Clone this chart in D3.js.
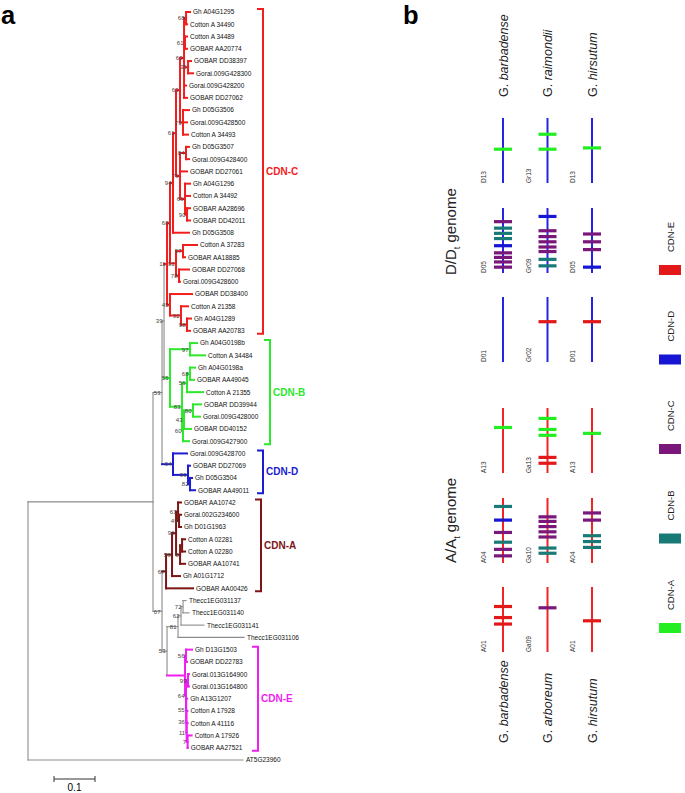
<!DOCTYPE html>
<html><head><meta charset="utf-8">
<script src="https://cdn.jsdelivr.net/npm/d3@7"></script>
<style>body{margin:0;background:#fff} svg{display:block;font-family:"Liberation Sans",Arial,sans-serif}</style>
</head><body><svg id="c" width="685" height="793"></svg>
<script>
// ---------- DATA: panel a (tree rows: id, parent, branch length, bootstrap) ----------
const treeRows = [
["root","",0,""],
["I","root",0.3049,""],
["A","I",0.0220,"53"],
["B","A",0.0049,"39"],
["nC","B",0.0073,"11"],
["n68","nC",0.0073,"68"],
["n94","n68",0.0073,"94"],
["c","n94",0.0073,"61"],
["c1","c",0.0098,"63"],
["c1a","c1",0.0098,"63"],
["c1a1","c1a",0.0049,"68"],
["Gh A04G1295","c1a1",0.0098,""],
["Cotton A 34490","c1a1",0.0024,""],
["c1a2","c1a",0.0024,"61"],
["Cotton A 34489","c1a2",0.0049,""],
["GOBAR AA20774","c1a2",0.0049,""],
["c1a3","c1a",0.0098,"35"],
["GOBAR DD38397","c1a3",0.0073,""],
["Gorai.009G428300","c1a3",0.0122,""],
["Gorai.009G428200","c1a",0.0049,""],
["GOBAR DD27062","c1a",0.0073,""],
["c1b","c1",0.0073,"79"],
["Gh D05G3506","c1b",0.0146,""],
["Gorai.009G428500","c1b",0.0098,""],
["Cotton A 34493","c1b",0.0122,""],
["c2","c",0.0098,"79"],
["c2a","c2",0.0146,"84"],
["Gh D05G3507","c2a",0.0073,""],
["Gorai.009G428400","c2a",0.0073,""],
["GOBAR DD27061","c2",0.0171,""],
["c2b","c2",0.0122,"69"],
["Gh A04G1296","c2b",0.0122,""],
["Cotton A 34492","c2b",0.0122,""],
["c2c","c2b",0.0049,"90"],
["GOBAR AA28696","c2c",0.0073,""],
["GOBAR DD42011","c2c",0.0073,""],
["Gh D05G3508","n94",0.0390,""],
["n91","n68",0.0146,"91"],
["n97c","n91",0.0171,"97"],
["Cotton A 37283","n97c",0.0341,""],
["GOBAR AA18885","n97c",0.0049,""],
["n78","n91",0.0073,"78"],
["GOBAR DD27068","n78",0.0244,""],
["Gorai.009G428600","n78",0.0024,""],
["nLow","nC",0.0073,"45"],
["GOBAR DD38400","nLow",0.0537,""],
["n92","nLow",0.0268,"92"],
["Cotton A 21358","n92",0.0171,""],
["n98","n92",0.0146,"98"],
["Gh A04G1289","n98",0.0098,""],
["GOBAR AA20783","n98",0.0073,""],
["nB","B",0.0146,"55"],
["n97","nB",0.0488,"97"],
["Gh A04G0198b","n97",0.0171,""],
["Cotton A 34484","n97",0.0366,""],
["nB2","nB",0.0293,"83"],
["n56","nB2",0.0122,"56"],
["n68b","n56",0.0073,"68"],
["Gh A04G0198a","n68b",0.0122,""],
["GOBAR AA49045","n68b",0.0098,""],
["Cotton A 21355","n56",0.0390,""],
["nB3","nB2",0.0024,"60"],
["nB4","nB3",0.0024,"43"],
["n80","nB4",0.0220,"80"],
["GOBAR DD39944","n80",0.0195,""],
["Gorai.009G428000","n80",0.0171,""],
["GOBAR DD40152","nB4",0.0171,""],
["Gorai.009G427900","nB3",0.0146,""],
["nD","A",0.0268,"94"],
["Gorai.009G428700","nD",0.0341,""],
["nD2","nD",0.0366,"99"],
["GOBAR DD27069","nD2",0.0049,""],
["nD3","nD2",0.0049,"82"],
["Gh D05G3504","nD3",0.0049,""],
["GOBAR AA49011","nD3",0.0122,""],
["n67","I",0.0220,"67"],
["nA","n67",0.0098,"67"],
["nA1","nA",0.0146,"56"],
["nA2","nA1",0.0098,"96"],
["nA4","nA2",0.0049,"61"],
["GOBAR AA10742","nA4",0.0073,""],
["nA5","nA4",0.0024,"49"],
["Gorai.002G234600","nA5",0.0049,""],
["Gh D01G1963","nA5",0.0049,""],
["nA3","nA2",0.0098,"6"],
["nA6","nA3",0.0049,""],
["Cotton A 02281","nA6",0.0073,""],
["Cotton A 02280","nA6",0.0073,""],
["GOBAR AA10741","nA3",0.0122,""],
["Gh A01G1712","nA1",0.0195,""],
["GOBAR AA00426","nA",0.0659,""],
["n53","n67",0.0122,"53"],
["nT1","n53",0.0268,"81"],
["nT2","nT1",0.0073,"62"],
["nT3","nT2",0.0049,"72"],
["Thecc1EG031137","nT3",0.0073,""],
["Thecc1EG031140","nT3",0.0146,""],
["Thecc1EG031141","nT2",0.0561,""],
["Thecc1EG031106","nT1",0.1610,""],
["nE","n53",0.0439,""],
["nEa","nE",0.0024,"56"],
["Gh D13G1503","nEa",0.0146,""],
["GOBAR DD22783","nEa",0.0024,""],
["nEb","nE",0.0024,"64"],
["nEc","nEb",0.0049,"99"],
["Gorai.013G164900","nEc",0.0024,""],
["Gorai.013G164800","nEc",0.0024,""],
["nEd","nEb",0.0005,"55"],
["Gh A13G1207","nEd",0.0024,""],
["nEe","nEd",0.0005,"36"],
["Cotton A 17928","nEe",0.0024,""],
["nEf","nEe",0.0005,"11"],
["Cotton A 41116","nEf",0.0024,""],
["nEg","nEf",0.0024,"7"],
["Cotton A 17926","nEg",0.0098,""],
["GOBAR AA27521","nEg",0.0005,""],
["AT5G23960","root",0.5244,""]
];
const cladeNames = ["CDN-C","CDN-B","CDN-D","CDN-A","CDN-E"];
const cladeRootIds = ["nC","nB","nD","nA","nE"];
const treeCladeColors = ["#f21d1d","#2de82d","#1c1cd0","#7e1515","#f01ef0"];
const scaleBarValue = 0.1;

// ---------- DATA: panel b ----------
const speciesTop = [["G.","barbadense"],["G.","raimondii"],["G.","hirsutum"]];
const speciesBottom = [["G.","barbadense"],["G.","arboreum"],["G.","hirsutum"]];
const chromLabels = [["D13","Gr13","D13"],["D05","Gr09","D05"],["D01","Gr02","D01"],
                     ["A13","Ga13","A13"],["A04","Ga10","A04"],["A01","Ga09","A01"]];
const chromGenome = ["D","D","D","A","A","A"];
// [row, column, relative position along chromosome (0 = top), family]
const geneMarks = [
[0,0,0.48,"CDN-A"],[0,1,0.25,"CDN-A"],[0,1,0.48,"CDN-A"],[0,2,0.46,"CDN-A"],
[1,0,0.21,"CDN-C"],[1,0,0.31,"CDN-B"],[1,0,0.39,"CDN-B"],[1,0,0.47,"CDN-B"],[1,0,0.58,"CDN-D"],
[1,0,0.69,"CDN-C"],[1,0,0.76,"CDN-C"],[1,0,0.83,"CDN-C"],[1,0,0.91,"CDN-C"],
[1,1,0.13,"CDN-D"],[1,1,0.35,"CDN-C"],[1,1,0.44,"CDN-C"],[1,1,0.52,"CDN-C"],[1,1,0.60,"CDN-C"],
[1,1,0.67,"CDN-C"],[1,1,0.79,"CDN-B"],[1,1,0.89,"CDN-B"],
[1,2,0.40,"CDN-C"],[1,2,0.52,"CDN-C"],[1,2,0.64,"CDN-C"],[1,2,0.91,"CDN-D"],
[2,1,0.38,"CDN-E"],[2,2,0.38,"CDN-E"],
[3,0,0.30,"CDN-A"],[3,1,0.16,"CDN-A"],[3,1,0.33,"CDN-A"],[3,1,0.42,"CDN-A"],[3,1,0.76,"CDN-E"],
[3,1,0.85,"CDN-E"],[3,2,0.39,"CDN-A"],
[4,0,0.13,"CDN-B"],[4,0,0.34,"CDN-D"],[4,0,0.53,"CDN-C"],[4,0,0.68,"CDN-B"],[4,0,0.79,"CDN-C"],[4,0,0.89,"CDN-C"],
[4,1,0.29,"CDN-C"],[4,1,0.36,"CDN-C"],[4,1,0.44,"CDN-C"],[4,1,0.52,"CDN-C"],[4,1,0.60,"CDN-C"],
[4,1,0.77,"CDN-B"],[4,1,0.85,"CDN-B"],
[4,2,0.23,"CDN-C"],[4,2,0.34,"CDN-C"],[4,2,0.58,"CDN-B"],[4,2,0.67,"CDN-B"],[4,2,0.76,"CDN-B"],
[5,0,0.30,"CDN-E"],[5,0,0.47,"CDN-E"],[5,0,0.57,"CDN-E"],[5,1,0.32,"CDN-C"],[5,2,0.52,"CDN-E"]
];
const legendNames = ["CDN-E","CDN-D","CDN-C","CDN-B","CDN-A"];
const legendColors = ["#e31818","#1616d4","#7a177a","#187a77","#22ee22"];
const genomeLabels = [["D/D","t"," genome"],["A/A","t"," genome"]];

// ---------- DRAW ----------
const svg = d3.select("#c");

// panel letters
svg.append("text").attr("x",1).attr("y",23.5).attr("font-size",25.5).attr("font-weight","bold").text("a");
svg.append("text").attr("x",403).attr("y",23.5).attr("font-size",25.5).attr("font-weight","bold").text("b");

// ---- tree ----
const root = d3.stratify().id(d=>d[0]).parentId(d=>d[1])(treeRows);
root.each(n => { n.len = n.parent ? n.parent.len + n.data[2] : 0; });
const leafNames = root.leaves().map(l=>l.id);
const xS = d3.scaleLinear().domain([0,1]).range([28,438]);
const yS = d3.scalePoint().domain(leafNames).range([12,760]);
root.eachAfter(n => {
  n.yy = n.children ? (n.children[0].yy + n.children[n.children.length-1].yy)/2 : yS(n.id);
});
const cladeColor = d3.scaleOrdinal().domain(cladeRootIds).range(treeCladeColors);
function colorOf(n){
  for(let a=n; a; a=a.parent){ if(cladeRootIds.includes(a.id)) return cladeColor(a.id); }
  return null;
}
const gT = svg.append("g");
const nodes = root.descendants();
nodes.forEach(n=>{
  const col = colorOf(n);
  const stroke = col || "#8c8c8c", sw = col ? 2 : 1.1;
  if(n.parent){
    gT.append("line").attr("x1",xS(n.parent.len)).attr("x2",xS(n.len))
      .attr("y1",n.yy).attr("y2",n.yy).attr("stroke",stroke).attr("stroke-width",sw)
      .attr("stroke-linecap","square");
  }
  if(n.children){
    gT.append("line").attr("x1",xS(n.len)).attr("x2",xS(n.len))
      .attr("y1",n.children[0].yy).attr("y2",n.children[n.children.length-1].yy)
      .attr("stroke",stroke).attr("stroke-width",sw).attr("stroke-linecap","square");
    if(n.data[3]){
      gT.append("text").attr("x",xS(n.len)-1.5).attr("y",n.yy+2.3)
        .attr("text-anchor","end").attr("font-size",6).attr("fill","#444").text(n.data[3]);
    }
  } else {
    gT.append("text").attr("x",xS(n.len)+3).attr("y",n.yy+2.4)
      .attr("font-size",6.5).attr("fill","#111").text(n.id);
  }
});
// clade brackets
const bracketX = [263,270,263,261,258];
cladeRootIds.forEach((id,i)=>{
  const n = root.find(d=>d.id===id);
  const lv = n.leaves();
  const y1 = lv[0].yy-3, y2 = lv[lv.length-1].yy+3, bx = bracketX[i];
  const c = cladeColor(id);
  gT.append("path").attr("d",`M${bx-6},${y1}H${bx}V${y2}H${bx-6}`)
    .attr("fill","none").attr("stroke",c).attr("stroke-width",2);
  gT.append("text").attr("x",bx+3).attr("y",(y1+y2)/2+3.5).attr("font-size",10)
    .attr("font-weight","bold").attr("fill",c).text(cladeNames[i]);
});
// scale bar
const sb = svg.append("g");
const sx0 = 54, sx1 = sx0 + (xS(scaleBarValue)-xS(0));
sb.append("path").attr("d",`M${sx0},776V782M${sx0},779H${sx1}M${sx1},776V782`)
  .attr("stroke","#333").attr("stroke-width",1).attr("fill","none");
sb.append("text").attr("x",(sx0+sx1)/2).attr("y",791).attr("text-anchor","middle")
  .attr("font-size",10).text(scaleBarValue);

// ---- panel b ----
const colX = d3.scalePoint().domain([0,1,2]).range([503,592]);
const ROW_Y = [118,208,297,408,498,587];
const CH_LEN = 65;
const posS = d3.scaleLinear().domain([0,1]).range([0,CH_LEN]);
const famColor = d3.scaleOrdinal().domain(legendNames).range(legendColors);
const gB = svg.append("g");

function speciesText(x,y,sp){
  const t = gB.append("text").attr("transform",`translate(${x},${y}) rotate(-90)`)
    .attr("font-size",12.5).attr("fill","#222");
  t.append("tspan").text(sp[0]+" ");
  t.append("tspan").attr("font-style","italic").text(sp[1]);
}
speciesTop.forEach((sp,i)=>speciesText(colX(i)+4.5,97,sp));
speciesBottom.forEach((sp,i)=>speciesText(colX(i)+4.5,743,sp));

chromLabels.forEach((row,r)=>{
  row.forEach((lab,c)=>{
    const cx = colX(c), y0 = ROW_Y[r];
    gB.append("line").attr("x1",cx).attr("x2",cx).attr("y1",y0).attr("y2",y0+CH_LEN)
      .attr("stroke",chromGenome[r]==="D" ? "#2424e6" : "#f02424").attr("stroke-width",2);
    gB.append("text").attr("transform",`translate(${cx-17},${y0+CH_LEN}) rotate(-90)`)
      .attr("font-size",6.5).attr("fill","#333").text(lab);
  });
});
geneMarks.forEach(m=>{
  const cx = colX(m[1]), y = ROW_Y[m[0]] + posS(m[2]);
  gB.append("line").attr("x1",cx-9).attr("x2",cx+9).attr("y1",y).attr("y2",y)
    .attr("stroke",famColor(m[3])).attr("stroke-width",3.2);
});
// genome labels
[[455.5,275],[455.5,563]].forEach((p,i)=>{
  const g = genomeLabels[i];
  const t = gB.append("text").attr("transform",`translate(${p[0]},${p[1]}) rotate(-90)`)
    .attr("font-size",15).attr("fill","#222");
  t.append("tspan").text(g[0]);
  t.append("tspan").attr("font-size",9).attr("dy",4).text(g[1]);
  t.append("tspan").attr("dy",-4).text(g[2]);
});
// legend
const legY = d3.scalePoint().domain(legendNames).range([265,623]);
legendNames.forEach(name=>{
  const y = legY(name);
  gB.append("rect").attr("x",659).attr("y",y).attr("width",22).attr("height",10).attr("fill",famColor(name));
  gB.append("text").attr("transform",`translate(673.5,${y-13}) rotate(-90)`)
    .attr("font-size",9.5).attr("fill","#222").text(name);
});
</script></body></html>
